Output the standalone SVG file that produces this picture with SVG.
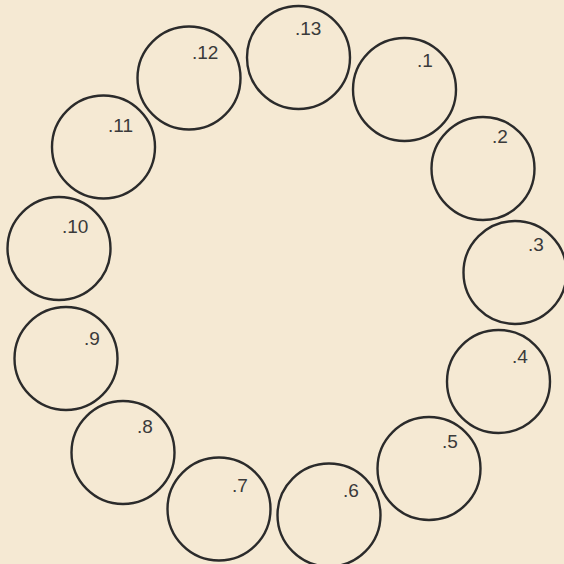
<svg xmlns="http://www.w3.org/2000/svg" width="564" height="564" viewBox="0 0 564 564">
<style>
.n circle{fill:none;stroke:#2b2b2b;stroke-width:2.4}
.n text{font-family:"Liberation Sans",Arial,sans-serif;font-size:19px;fill:#3a3a3a}
</style>
<rect width="564" height="564" fill="#f5e9d3"/>
<g id="connectors"/>
<g id="n13" class="n"><circle cx="298.5" cy="57.5" r="51.5"/><text x="295" y="35">.13</text></g>
<g id="n1" class="n"><circle cx="404.5" cy="89.5" r="51.5"/><text x="417" y="67">.1</text></g>
<g id="n2" class="n"><circle cx="483" cy="168.5" r="51.5"/><text x="492" y="143">.2</text></g>
<g id="n3" class="n"><circle cx="515" cy="272.5" r="51.5"/><text x="528" y="251">.3</text></g>
<g id="n4" class="n"><circle cx="498.5" cy="381.5" r="51.5"/><text x="512" y="363">.4</text></g>
<g id="n5" class="n"><circle cx="429" cy="468.5" r="51.5"/><text x="442" y="448">.5</text></g>
<g id="n6" class="n"><circle cx="329" cy="515" r="51.5"/><text x="343" y="497">.6</text></g>
<g id="n7" class="n"><circle cx="219" cy="509" r="51.5"/><text x="232" y="492">.7</text></g>
<g id="n8" class="n"><circle cx="123" cy="452.5" r="51.5"/><text x="137" y="433">.8</text></g>
<g id="n9" class="n"><circle cx="66" cy="358.5" r="51.5"/><text x="84" y="345">.9</text></g>
<g id="n10" class="n"><circle cx="59" cy="248.5" r="51.5"/><text x="62" y="233">.10</text></g>
<g id="n11" class="n"><circle cx="103.5" cy="147" r="51.5"/><text x="108" y="132">.11</text></g>
<g id="n12" class="n"><circle cx="189" cy="78" r="51.5"/><text x="192" y="59">.12</text></g>
</svg>
